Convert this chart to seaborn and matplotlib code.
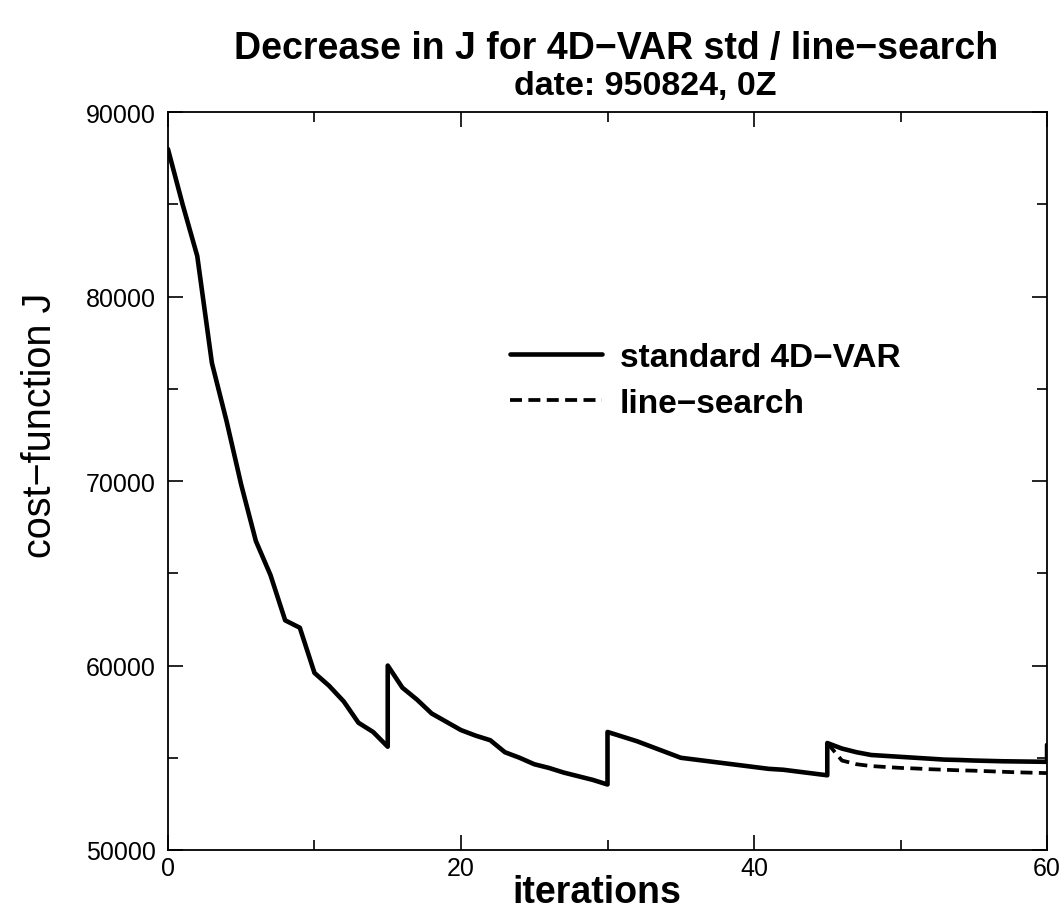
import numpy as np
import pandas as pd
import matplotlib
matplotlib.use("Agg")
import matplotlib.pyplot as plt
from matplotlib.ticker import MultipleLocator
import seaborn as sns

# ---- data ----
std_iter = [0, 1, 2, 3, 4, 5, 6, 7, 8, 9, 10, 11, 12, 13, 14, 15,
            15, 16, 17, 18, 19, 20, 21, 22, 23, 24, 25, 26, 27, 28, 29, 30,
            30, 31, 32, 33, 34, 35, 36, 37, 38, 39, 40, 41, 42, 43, 44, 45,
            45, 46, 47, 48, 49, 50, 51, 52, 53, 54, 55, 56, 57, 58, 59, 60, 60]
std_cost = [88000, 85000, 82200, 76400, 73250, 69800, 66750, 64900, 62450, 62050,
            59600, 58900, 58050, 56900, 56400, 55600,
            60000, 58800, 58150, 57400, 56950, 56500, 56200, 55950, 55300, 55000,
            54650, 54450, 54200, 54000, 53800, 53550,
            56400, 56150, 55900, 55600, 55300, 55000, 54900, 54800, 54700, 54600,
            54500, 54400, 54350, 54250, 54150, 54050,
            55800, 55500, 55300, 55150, 55100, 55050, 55000, 54950, 54900, 54880,
            54850, 54830, 54810, 54800, 54790, 54780, 55700]

ls_iter = [45, 46, 47, 48, 49, 50, 51, 52, 53, 54, 55, 56, 57, 58, 59, 60]
ls_cost = [55800, 54850, 54650, 54550, 54500, 54450, 54420, 54380, 54350, 54320,
           54300, 54270, 54240, 54210, 54190, 54170]

series_names = ["standard 4D\u2212VAR", "line\u2212search"]
title_line1 = "Decrease in J for 4D\u2212VAR std / line\u2212search"
title_line2 = "date: 950824, 0Z"
x_label = "iterations"
y_label = "cost\u2212function J"
x_ticks = [0, 20, 40, 60]
y_ticks = [50000, 60000, 70000, 80000, 90000]

df_std = pd.DataFrame({"iter": std_iter, "J": std_cost})
df_ls = pd.DataFrame({"iter": ls_iter, "J": ls_cost})

sns.set_theme(style="ticks")
plt.rcParams["font.family"] = ["Liberation Sans", "DejaVu Sans"]
plt.rcParams["text.color"] = "black"
plt.rcParams["axes.labelcolor"] = "black"

fig = plt.figure(figsize=(10.63, 9.2), dpi=100)
ax = fig.add_axes([0.158, 0.075, 0.827, 0.802])

sns.lineplot(data=df_std, x="iter", y="J", estimator=None, sort=False,
             color="black", linewidth=3.3, ax=ax, label=series_names[0])
sns.lineplot(data=df_ls, x="iter", y="J", estimator=None, sort=False,
             color="black", linewidth=2.7, linestyle=(0, (3.2, 1.7)), ax=ax,
             label=series_names[1])

ax.set_xlim(0, 60)
ax.set_ylim(50000, 90000)
ax.set_xticks(x_ticks)
ax.set_yticks(y_ticks)
ax.xaxis.set_minor_locator(MultipleLocator(10))
ax.yaxis.set_minor_locator(MultipleLocator(5000))
ax.tick_params(which="both", direction="in", top=True, right=True,
               labelsize=18, color="black", labelcolor="black", width=1.2)
ax.tick_params(which="major", length=11)
ax.tick_params(which="minor", length=7)
ax.tick_params(axis="y", pad=9)
ax.tick_params(axis="x", pad=4)
for s in ax.spines.values():
    s.set_color("black")
    s.set_linewidth(1.3)

ax.set_xlabel("")
ax.set_ylabel("")
fig.text(597 / 1063, 1 - 893 / 920, x_label, ha="center", va="center",
         fontsize=27, fontweight="bold")
fig.text(40 / 1063, 1 - 425 / 920, y_label, ha="center", va="center",
         rotation=90, fontsize=28.5)

fig.text(616 / 1063, 1 - 49 / 920, title_line1, ha="center", va="center",
         fontsize=27, fontweight="bold")
fig.text(645 / 1063, 1 - 87 / 920, title_line2, ha="center", va="center",
         fontsize=24.5, fontweight="bold")

leg = ax.legend(loc="upper left", bbox_to_anchor=(0.389, 0.689), frameon=False,
                prop={"size": 24, "weight": "bold"}, handlelength=2.75,
                handletextpad=0.55, labelspacing=0.45, borderpad=0,
                borderaxespad=0)

fig.savefig("out.png", dpi=100, facecolor="white")
